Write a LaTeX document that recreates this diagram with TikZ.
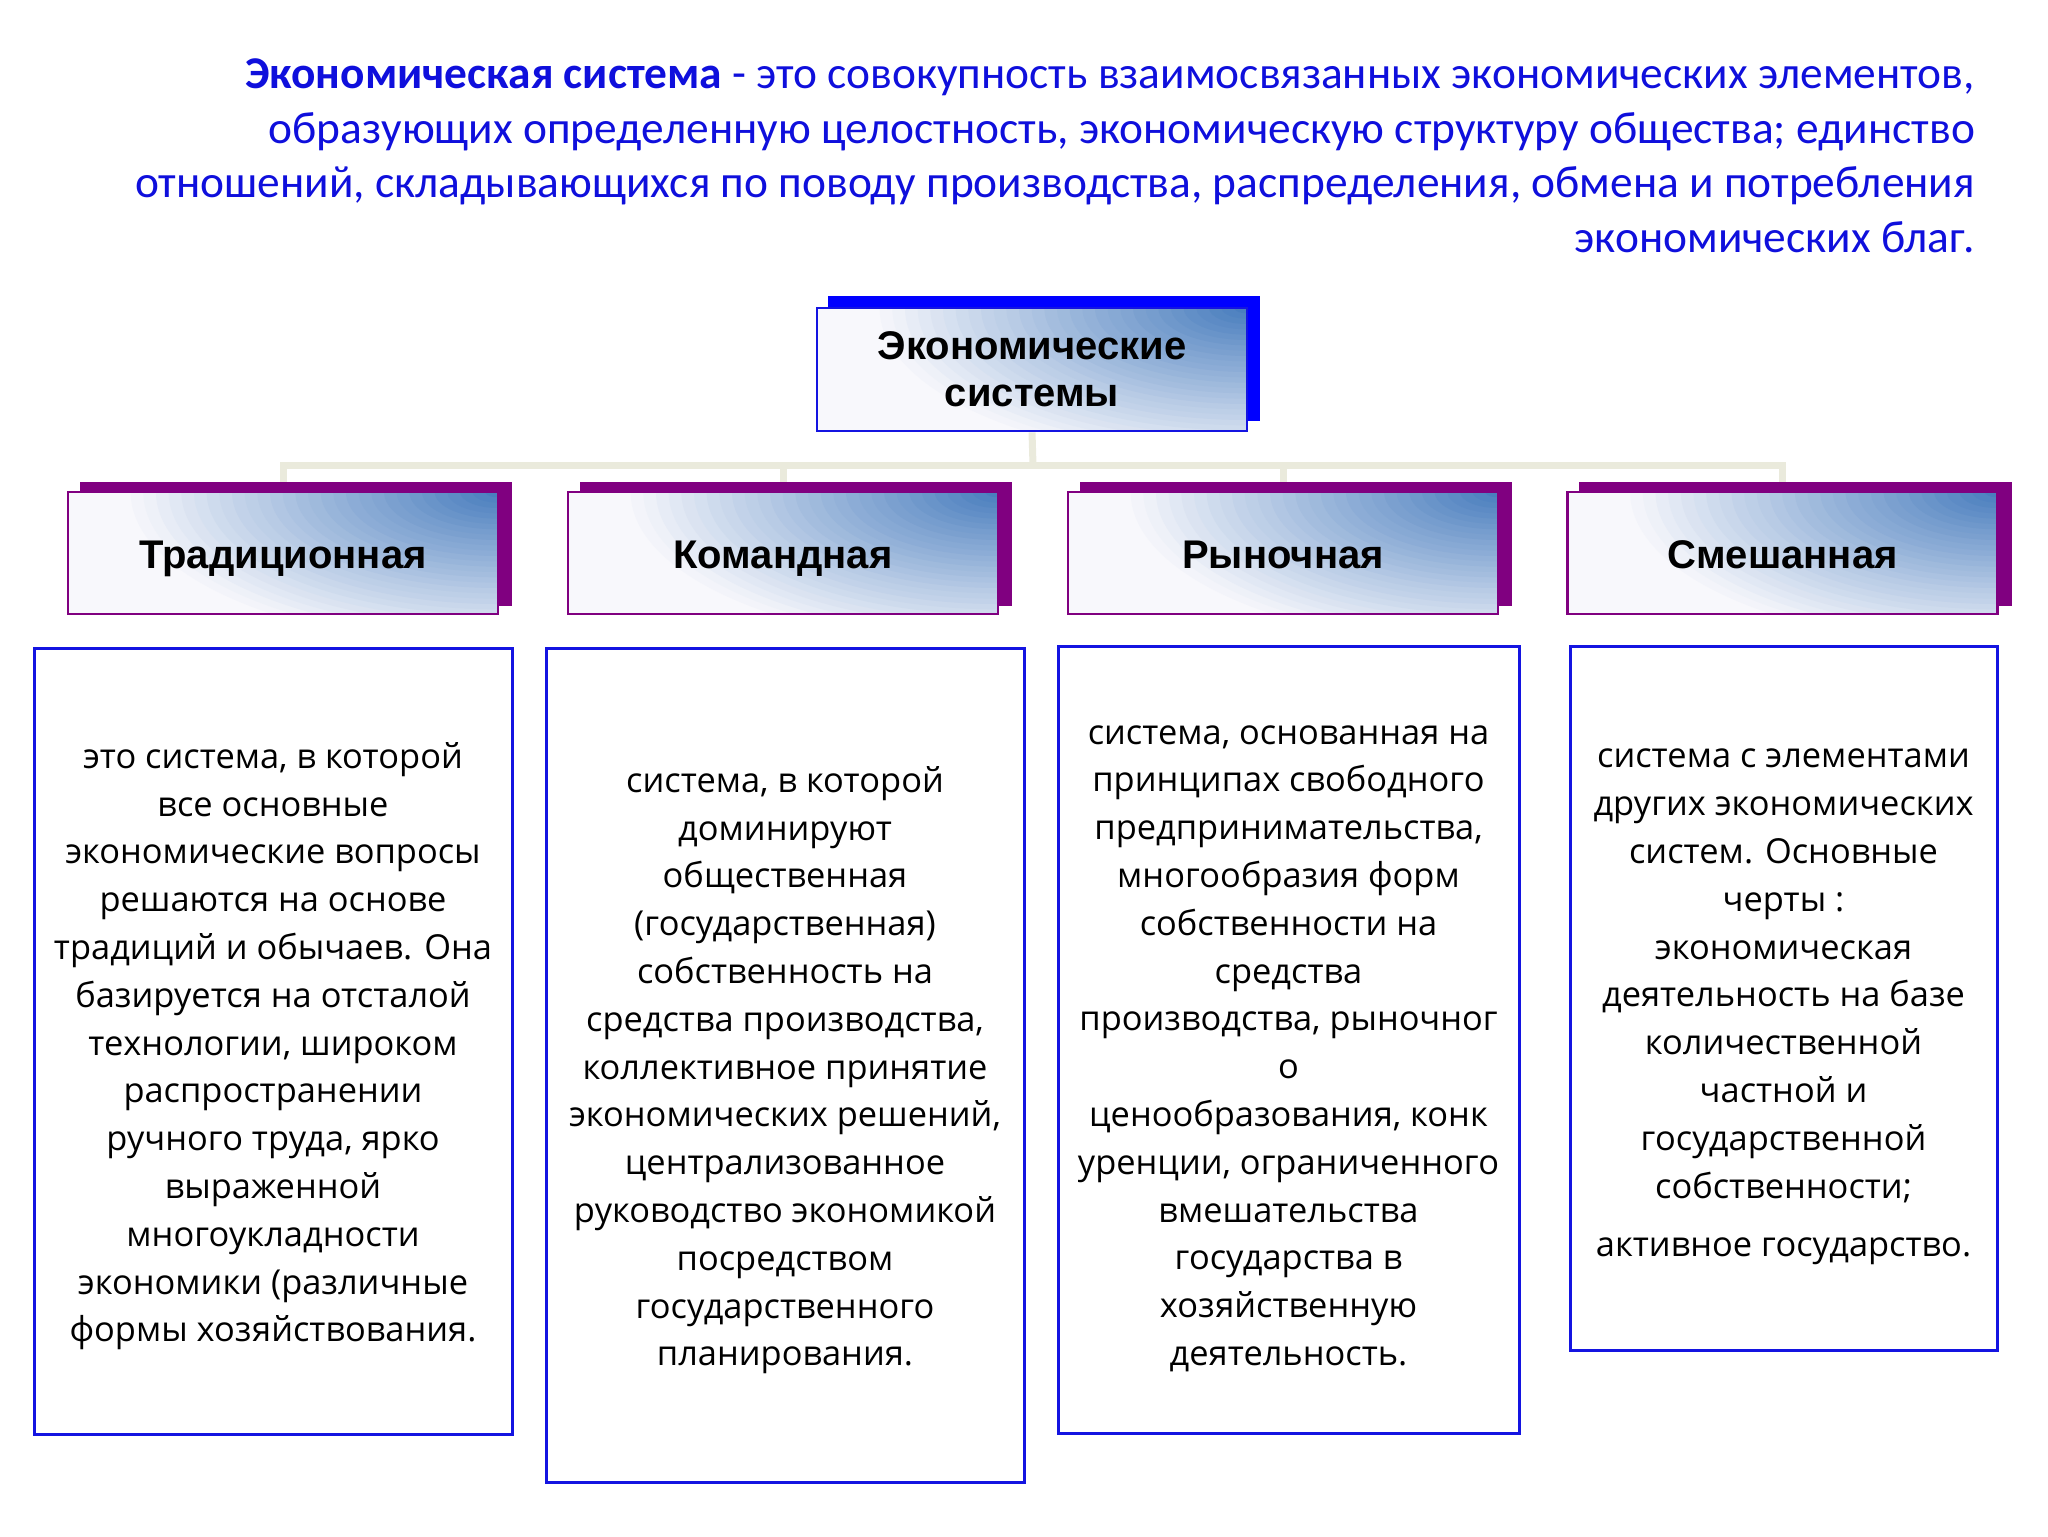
\documentclass[tikz,border=0pt]{standalone}
\usepackage{fontspec}
\setmainfont{Open Sans}
\newfontfamily\titlefont{Carlito}
\newfontfamily\hdrfont{Liberation Sans}
\usetikzlibrary{backgrounds}
\definecolor{hdrblue}{RGB}{74,126,190}
\definecolor{hdrpurple}{RGB}{128,0,128}
\definecolor{boxblue}{RGB}{20,20,225}
\definecolor{topshadow}{RGB}{0,0,255}
\definecolor{titleblue}{RGB}{15,15,220}
\definecolor{connc}{RGB}{234,234,220}
\definecolor{frontw}{RGB}{248,248,252}
\begin{document}
\begin{tikzpicture}[x=0.5pt,y=-0.5pt,
  hdrfill/.style={path picture={
    \foreach \i in {0,...,29}{
      \pgfmathtruncatemacro\p{100*\i/29}
      \pgfmathsetmacro\s{1-\i/30}
      \fill[hdrblue!\p!frontw] (path picture bounding box.north east) ellipse [x radius=\s*190pt, y radius=\s*80pt];
    }}},
  hdr/.style={draw=hdrpurple, line width=1.4pt, fill=frontw, minimum width=215pt, minimum height=61pt, inner sep=0pt, align=center,
    font=\hdrfont\bfseries\fontsize{20}{23.5}\selectfont, hdrfill},
  hdrline/.style={hdr, text height=16pt, text depth=0.8pt},
  topbox/.style={hdr, draw=boxblue},
  body/.style={draw=boxblue, line width=1.5pt, fill=white, inner sep=0pt},
  bodytext/.style={inner sep=0pt, align=center, font=\fontsize{17.2}{23.9}\selectfont},
  conn/.style={draw=connc, line width=3.5pt, line join=miter},
  titletext/.style={anchor=north east, inner sep=0pt, align=right, text=titleblue, font=\titlefont\fontsize{22.7}{27.3}\selectfont}]
\useasboundingbox (0,0) rectangle (2048,1536);

\node[titletext] (title) at (1975,58.6) {\textbf{Экономическая система} - это совокупность взаимосвязанных экономических элементов,\\
образующих определенную целостность, экономическую структуру общества; единство\\
отношений, складывающихся по поводу производства, распределения, обмена и потребления\\
экономических благ.};

\node[topbox, minimum height=61.5pt] (top) at (1032,369.5) {Экономические\\ системы};

\node[hdrline] (h1) at (283,553) {Традиционная};
\node[hdrline] (h2) at (783,553) {Командная};
\node[hdrline] (h3) at (1283,553) {Рыночная};
\node[hdrline] (h4) at (1782.5,553) {Смешанная};

\coordinate (bus) at (1033,465);

\node[body, minimum width=239pt, minimum height=393pt] (b1) at (273,1041) {};
\node[body, minimum width=239pt, minimum height=417pt] (b2) at (785,1065) {};
\node[body, minimum width=230.5pt, minimum height=393.5pt] (b3) at (1288.5,1039.5) {};
\node[body, minimum width=213.5pt, minimum height=352pt] (b4) at (1783.5,998) {};

\node[bodytext] (t1) at ([yshift=-2.6pt]b1.center) {это система, в которой\\ все основные\\ экономические вопросы\\ решаются на основе\\ традиций и обычаев. Она\\ базируется на отсталой\\ технологии, широком\\ распространении\\ ручного труда, ярко\\ выраженной\\ многоукладности\\ экономики (различные\\ формы хозяйствования.};
\node[bodytext] (t2) at ([yshift=-2.6pt]b2.center) {система, в которой\\ доминируют\\ общественная\\ (государственная)\\ собственность на\\ средства производства,\\ коллективное принятие\\ экономических решений,\\ централизованное\\ руководство экономикой\\ посредством\\ государственного\\ планирования.};
\node[bodytext] (t3) at ([yshift=-4.5pt]b3.center) {система, основанная на\\ принципах свободного\\ предпринимательства,\\ многообразия форм\\ собственности на\\ средства\\ производства, рыночног\\ о\\ ценообразования, конк\\ уренции, ограниченного\\ вмешательства\\ государства в\\ хозяйственную\\ деятельность.};
\node[bodytext] (t4) at ([yshift=-4.6pt]b4.center) {система с элементами\\ других экономических\\ систем. Основные\\ черты :\\ экономическая\\ деятельность на базе\\ количественной\\ частной и\\ государственной\\ собственности;\\[5.5pt] активное государство.};

\begin{scope}[on background layer]
  \draw[conn] (top.south) -- (bus);
  \draw[conn] (h1.north) -- (h1.north |- bus) -- (h4.north |- bus) -- (h4.north);
  \draw[conn] (h2.north |- bus) -- (h2.north);
  \draw[conn] (h3.north |- bus) -- (h3.north);
  \fill[topshadow] ([shift={(6pt,5.5pt)}]top.south west) rectangle ([shift={(6pt,5.5pt)}]top.north east);
  \foreach \n in {h1,h2,h3,h4}
    \fill[hdrpurple] ([shift={(6.5pt,4.5pt)}]\n.south west) rectangle ([shift={(6.5pt,4.5pt)}]\n.north east);
\end{scope}
\end{tikzpicture}
\end{document}
